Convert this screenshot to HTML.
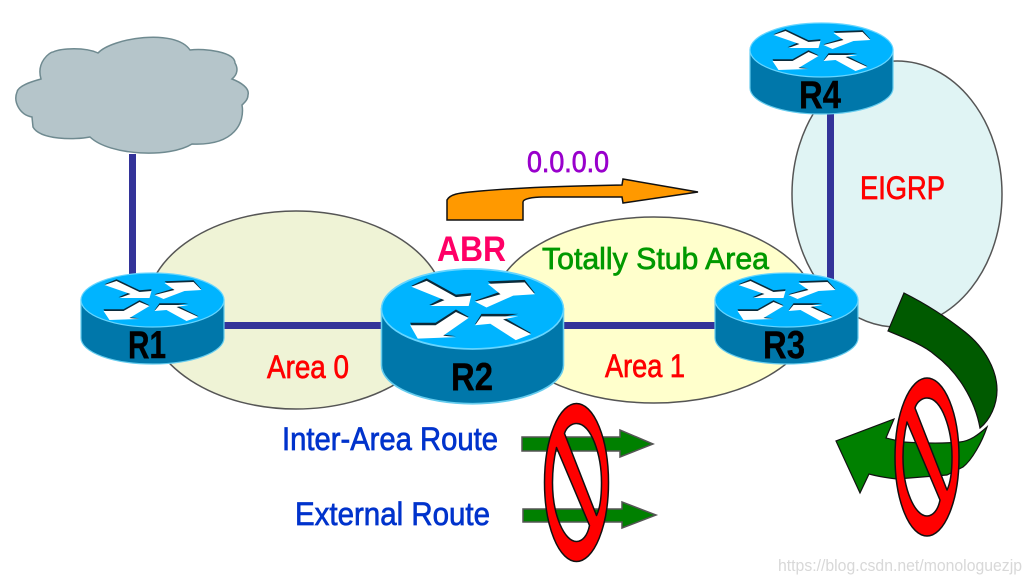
<!DOCTYPE html>
<html>
<head>
<meta charset="utf-8">
<style>
html,body{margin:0;padding:0;background:#fff;width:1032px;height:583px;overflow:hidden}
svg{display:block}
text{font-family:"Liberation Sans",sans-serif}
</style>
</head>
<body>
<svg width="1032" height="583" viewBox="0 0 1032 583" xmlns="http://www.w3.org/2000/svg">
<defs>
<g id="router">
  <path d="M-71.5,0 V38 A71.5,26 0 0 0 71.5,38 V0 Z" fill="#0077aa" stroke="#66ccee" stroke-width="1.2"/>
  <ellipse cx="0" cy="0" rx="71.5" ry="27" fill="#00b4ff" stroke="#66d5ff" stroke-width="1.2"/>
  <g transform="translate(-1,-2)">
    <g fill="#0a2a3a" transform="translate(0,-0.7)">
      <path d="M-47,-13 L-35,-18 L-12,-7 L0,-8 L-2,0 L-33,0 L-22,-5 Z"/>
      <path d="M3,-3 L23,-9 L13,-16 L42,-17 L50,-8 L33,-8 L12,1 Z"/>
      <path d="M-48,12 L-28,12 L-12,3 L-2,8 L-22,20 L-12,21 L-42,22 Z"/>
      <path d="M3,13 L8,6 L37,6 L25,8 L47,19 L35,23 L15,12 Z"/>
    </g>
    <g fill="#fff">
      <path d="M-47,-13 L-35,-17 L-12,-6 L0,-7 L-2,0 L-32,0 L-21,-4 Z"/>
      <path d="M3,-3 L23,-8 L13,-15 L42,-16 L50,-8 L33,-7 L12,1 Z"/>
      <path d="M-48,13 L-28,13 L-12,4 L-2,8 L-22,20 L-12,21 L-42,22 Z"/>
      <path d="M3,13 L8,7 L37,7 L25,9 L47,19 L35,23 L15,12 Z"/>
    </g>
  </g>
</g>
<g id="ban">
  <path fill-rule="evenodd" d="M895,457 A32,79 0 1 1 959,457 A32,79 0 1 1 895,457 Z M915,408 C917,401 923,398 927,398 C942,398 952,430 952,457 C952,470 951,482 947,490 Z M907,422 C904,435 903,445 903,457 C903,490 915,516 927,516 C933,516 938,510 940,500 Z" fill="#ff0000" stroke="#111" stroke-width="1.5" stroke-linejoin="round"/>
</g>
</defs>

<!-- areas -->
<ellipse cx="296" cy="310" rx="150" ry="99" fill="#eff3d6" stroke="#555" stroke-width="1.5"/>
<ellipse cx="654" cy="310" rx="162" ry="93" fill="#ffffcc" stroke="#555" stroke-width="1.5"/>
<ellipse cx="897" cy="194" rx="105" ry="133" fill="#e0f4f4" stroke="#555" stroke-width="1.5"/>

<!-- cloud -->
<path d="M98,53 C112,38 175,28 190,50 C205,48 235,52 235,63 C238,68 238,74 232,79 C240,82 250,88 248,95 C248,100 244,103 242,105 C245,122 235,146 192,144 C170,158 110,156 90,137 C75,140 40,140 33,127 L32,117 C20,115 13,102 17,92 C18,86 30,82 41,79 C36,62 50,52 53,52 C62,48 85,47 98,53 Z" fill="#b5c5ca" stroke="#6f8a90" stroke-width="1.5"/>

<!-- links -->
<rect x="129" y="154" width="7" height="125" fill="#333399"/>
<rect x="827" y="105" width="7" height="175" fill="#333399"/>
<rect x="220" y="322" width="500" height="7" fill="#333399"/>

<!-- routers -->
<use href="#router" transform="translate(152.5,300)"/>
<use href="#router" transform="translate(786.5,300)"/>
<use href="#router" transform="translate(821.5,50)"/>
<use href="#router" transform="translate(472.5,309) scale(1.273,1.48)"/>

<!-- orange arrow -->
<path d="M447,220 L447,200 C450,194 460,193 470,192 C520,187 575,186 622,185 L623,179 L698,192 L623,203 L622,197 L543,197 C532,197 523,199 523,202 L523,220 Z" fill="#ff9900" stroke="#111" stroke-width="1.5" stroke-linejoin="miter"/>

<!-- small green arrows -->
<path d="M522,437 H620 V430 L653,444 L620,457 V451 H522 Z" fill="#008000" stroke="#555" stroke-width="1.5"/>
<path d="M523,509 H622 V502 L656,515 L622,528 V522 H523 Z" fill="#008000" stroke="#555" stroke-width="1.5"/>

<!-- big green arrow -->
<path d="M987,427 C978,435 970,441 960,442 C940,444 920,443 903,442 L886,438 L894,419 L836,441 L860,493 L869,474 C880,477 888,478 897,479 L947,475 L963,467 C972,460 982,442 987,427 Z" fill="#008000" stroke="#111" stroke-width="1.2"/>
<path d="M904,293 L888,331 C910,340 925,346 935,355 C958,372 975,400 980,428 C990,420 997,405 997,390 C997,370 985,348 965,332 C950,320 930,306 904,293 Z" fill="#005a00" stroke="#111" stroke-width="1.2"/>

<!-- prohibition signs -->
<use href="#ban"/>
<use href="#ban" transform="translate(-350.5,25.5)"/>

<!-- labels -->
<g font-weight="bold" fill="#000" font-size="39" stroke="#000" stroke-width="0.4">
  <text x="128" y="358" textLength="38" lengthAdjust="spacingAndGlyphs">R1</text>
  <text x="451" y="390" textLength="42" lengthAdjust="spacingAndGlyphs">R2</text>
  <text x="763" y="358" textLength="42" lengthAdjust="spacingAndGlyphs">R3</text>
  <text x="799" y="108" textLength="42" lengthAdjust="spacingAndGlyphs">R4</text>
</g>
<g fill="#ff0000" font-size="32" stroke="#ff0000" stroke-width="0.7">
  <text x="267" y="378" textLength="82" lengthAdjust="spacingAndGlyphs">Area 0</text>
  <text x="605" y="377" textLength="80" lengthAdjust="spacingAndGlyphs">Area 1</text>
  <text x="860" y="199" textLength="85" lengthAdjust="spacingAndGlyphs">EIGRP</text>
</g>
<text x="437" y="261" font-size="35" font-weight="bold" fill="#ff0066" textLength="69" lengthAdjust="spacingAndGlyphs">ABR</text>
<text x="527" y="172" font-size="30" fill="#9900cc" stroke="#9900cc" stroke-width="0.7" textLength="82" lengthAdjust="spacingAndGlyphs">0.0.0.0</text>
<text x="542" y="269" font-size="31" fill="#009900" stroke="#009900" stroke-width="0.7" textLength="227" lengthAdjust="spacingAndGlyphs">Totally Stub Area</text>
<g fill="#0033cc" font-size="32" stroke="#0033cc" stroke-width="0.7">
  <text x="282" y="450" textLength="216" lengthAdjust="spacingAndGlyphs">Inter-Area Route</text>
  <text x="295" y="525" textLength="195" lengthAdjust="spacingAndGlyphs">External Route</text>
</g>
<text x="778" y="571" font-size="17" fill="#d8d8d8" textLength="244" lengthAdjust="spacingAndGlyphs">https://blog.csdn.net/monologuezjp</text>
</svg>
</body>
</html>
